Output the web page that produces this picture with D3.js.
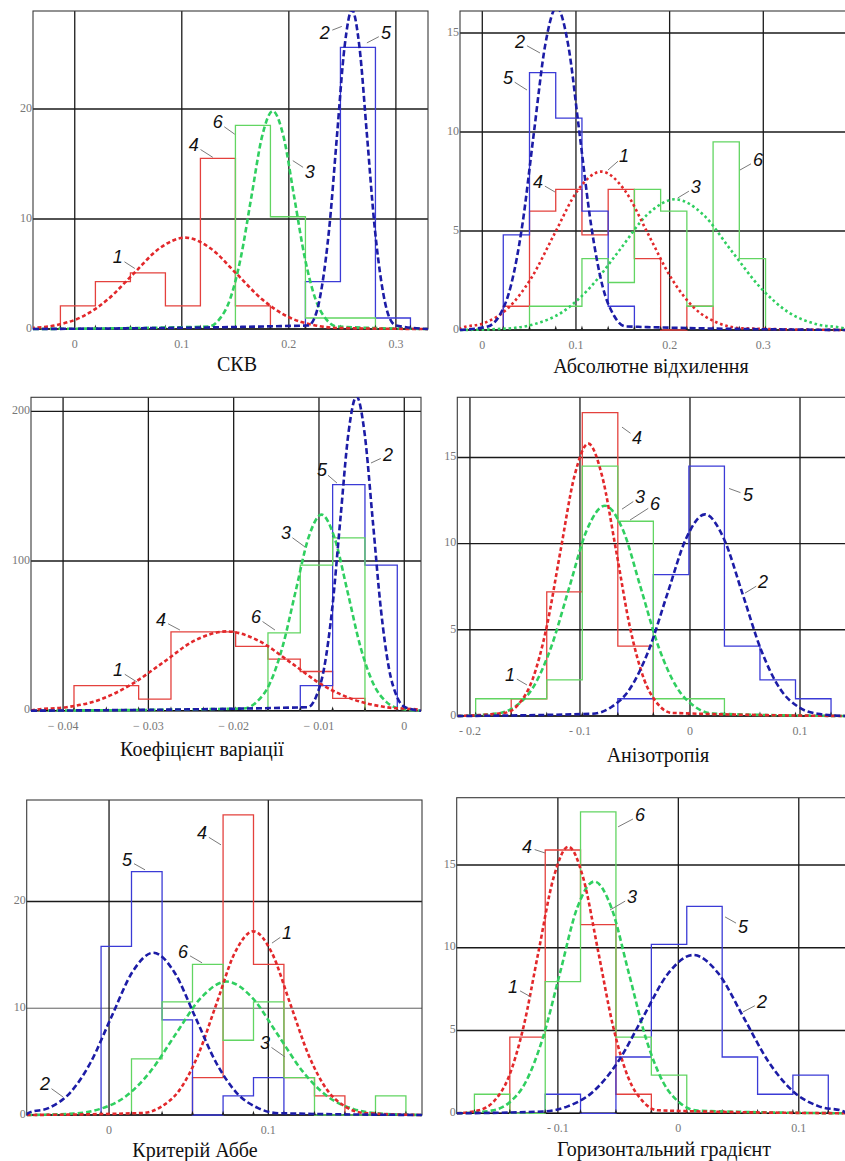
<!DOCTYPE html>
<html><head><meta charset="utf-8">
<script src="https://cdn.jsdelivr.net/npm/d3@7"></script>
<style>body{margin:0;background:#fff}svg{display:block}</style>
</head><body><svg id="c" width="845" height="1161"></svg>
<script>
// ---------- DATA ----------
// Panel: СКВ
const skvEdges = [-0.0134, 0.0193, 0.0520, 0.0847, 0.1174, 0.1501, 0.1828, 0.2155, 0.2482, 0.2809, 0.3136];
const skvHist4 = [2.1, 4.3, 5.1, 2.1, 15.5, 2.1, 0, 0, 0, 0];
const skvHist5 = [0, 0, 0, 0, 0, 0, 0, 4.3, 25.6, 1.0];
const skvHist6 = [0, 0, 0, 0, 0, 18.5, 10.2, 1.0, 1.0, 0];
const skvCurve1 = [[-0.041,0.09],[-0.017,0.36],[0.007,1.12],[0.031,2.70],[0.055,5.03],[0.079,7.32],[0.103,8.30],[0.127,7.32],[0.151,5.03],[0.175,2.70],[0.199,1.12],[0.223,0.36],[0.247,0.09]];
const skvCurve2 = [[0.218,0.32],[0.225,1.27],[0.231,3.92],[0.238,9.42],[0.245,17.6],[0.252,25.6],[0.259,29.0],[0.266,25.6],[0.273,17.6],[0.280,9.42],[0.287,3.92],[0.293,1.27],[0.300,0.32]];
const skvCurve3 = [[0.125,0.22],[0.135,0.87],[0.145,2.68],[0.155,6.43],[0.165,12.0],[0.175,17.5],[0.185,19.8],[0.195,17.5],[0.205,12.0],[0.215,6.43],[0.225,2.68],[0.235,0.87],[0.245,0.22]];
const skvXTicks = [0, 0.1, 0.2, 0.3];
const skvXLabels = ["0", "0.1", "0.2", "0.3"];
const skvYTicks = [0, 10, 20];

// Panel: Абсолютне відхилення
const absEdges = [0.0224, 0.0504, 0.0784, 0.1064, 0.1344, 0.1624, 0.1904, 0.2184, 0.2464, 0.2744, 0.3024];
const absHist4 = [1.2, 6.0, 7.1, 4.8, 7.1, 3.6, 0, 1.2, 0, 0];
const absHist5 = [4.8, 13.0, 10.7, 6.0, 1.2, 0, 0, 0, 0, 0];
const absHist6 = [0, 1.2, 1.2, 3.6, 2.4, 7.1, 6.0, 1.2, 9.5, 3.6];
const absCurve1 = [[-0.023,0.09],[0.002,0.35],[0.027,1.08],[0.052,2.60],[0.077,4.85],[0.102,7.06],[0.127,8.0],[0.152,7.06],[0.177,4.85],[0.202,2.60],[0.227,1.08],[0.252,0.35],[0.277,0.09]];
const absCurve2 = [[0.0059,0.18],[0.0182,0.72],[0.0304,2.21],[0.0427,5.29],[0.0549,9.89],[0.0672,14.4],[0.0794,16.3],[0.0917,14.4],[0.1039,9.89],[0.1162,5.29],[0.1284,2.21],[0.1407,0.72],[0.1529,0.18]];
const absCurve3 = [[0.025,0.07],[0.055,0.29],[0.085,0.89],[0.115,2.14],[0.146,4.00],[0.176,5.82],[0.206,6.6],[0.236,5.82],[0.266,4.00],[0.297,2.14],[0.327,0.89],[0.357,0.29],[0.387,0.07]];
const absXTicks = [0, 0.1, 0.2, 0.3];
const absXLabels = ["0", "0.1", "0.2", "0.3"];
const absYTicks = [0, 5, 10, 15];

// Panel: Коефіцієнт варіації
const cvEdges = [-0.03872, -0.03493, -0.03114, -0.02735, -0.02356, -0.01977, -0.01598, -0.01219, -0.00840, -0.00461, -0.00082];
const cvHist4 = [16.8, 16.8, 7.8, 52.7, 52.7, 43, 34.5, 26.2, 8.3, 0];
const cvHist5 = [0, 0, 0, 0, 0, 0, 0, 16.8, 151, 97.3];
const cvHist6 = [0, 0, 0, 0, 0, 0, 52, 97.3, 115.5, 0];
const cvCurve1 = [[-0.0433,0.59],[-0.0396,2.33],[-0.0358,7.17],[-0.0321,17.2],[-0.0283,32.1],[-0.0246,46.8],[-0.0208,53.0],[-0.0171,46.8],[-0.0133,32.1],[-0.0096,17.2],[-0.0058,7.17],[-0.0021,2.33],[0.0017,0.59]];
const cvCurve2 = [[-0.0113,2.33],[-0.01035,9.2],[-0.0094,28.4],[-0.00845,68.2],[-0.0075,127.4],[-0.00655,185.3],[-0.0056,210],[-0.00465,185.3],[-0.0037,127.4],[-0.00275,68.2],[-0.0018,28.4],[-0.00085,9.2],[0.0001,2.33]];
const cvCurve3 = [[-0.01885,1.45],[-0.01733,5.75],[-0.0158,17.7],[-0.01428,42.5],[-0.01275,79.5],[-0.01123,115.6],[-0.0097,131],[-0.00818,115.6],[-0.00665,79.5],[-0.00513,42.5],[-0.0036,17.7],[-0.00208,5.75],[-0.00055,1.45]];
const cvXTicks = [-0.04, -0.03, -0.02, -0.01, 0];
const cvXLabels = ["\u2212 0.04", "\u2212 0.03", "\u2212 0.02", "\u2212 0.01", "0"];
const cvYTicks = [0, 100, 200];

// Panel: Анізотропія
const anisEdges = [-0.1948, -0.1625, -0.1302, -0.0979, -0.0656, -0.0333, -0.0010, 0.0313, 0.0636, 0.0959, 0.1282];
const anisHist4 = [0, 1.0, 7.2, 17.6, 4.05, 0, 0, 0, 0, 0];
const anisHist5 = [0, 0, 0, 0, 1.0, 8.2, 14.5, 4.05, 2.1, 1.0];
const anisHist6 = [1.0, 1.0, 2.1, 14.5, 11.3, 1.0, 1.0, 0, 0, 0];
const anisCurve1 = [[-0.1683,0.18],[-0.1557,0.69],[-0.143,2.14],[-0.1304,5.13],[-0.1177,9.58],[-0.1051,13.9],[-0.0924,15.8],[-0.0798,13.9],[-0.0671,9.58],[-0.0545,5.13],[-0.0418,2.14],[-0.0292,0.69],[-0.0165,0.18]];
const anisCurve2 = [[-0.0887,0.13],[-0.0717,0.51],[-0.0546,1.58],[-0.0376,3.80],[-0.0205,7.10],[-0.0035,10.3],[0.0136,11.7],[0.0307,10.3],[0.0477,7.10],[0.0648,3.80],[0.0818,1.58],[0.0989,0.51],[0.1159,0.13]];
const anisCurve3 = [[-0.1754,0.14],[-0.1591,0.54],[-0.1427,1.65],[-0.1264,3.96],[-0.11,7.40],[-0.0937,10.8],[-0.0773,12.2],[-0.061,10.8],[-0.0446,7.40],[-0.0283,3.96],[-0.0119,1.65],[0.0045,0.54],[0.0208,0.14]];
const anisXTicks = [-0.2, -0.1, 0, 0.1];
const anisXLabels = ["- 0.2", "- 0.1", "0", "0.1"];
const anisYTicks = [0, 5, 10, 15];

// Panel: Критерій Аббе
const abbeEdges = [-0.0050, 0.0141, 0.0333, 0.0524, 0.0716, 0.0907, 0.1098, 0.1290, 0.1481, 0.1673, 0.1864];
const abbeHist4 = [0, 0, 0, 3.5, 28.1, 14.1, 3.5, 1.8, 0, 0];
const abbeHist5 = [15.8, 22.8, 8.9, 0, 1.8, 3.5, 0, 0, 0, 0];
const abbeHist6 = [0, 5.25, 10.6, 14.1, 7.0, 10.6, 3.5, 0, 0, 1.8];
const abbeCurve1 = [[0.021,0.19],[0.0326,0.76],[0.0442,2.33],[0.0558,5.58],[0.0674,10.4],[0.079,15.2],[0.0906,17.2],[0.1022,15.2],[0.1138,10.4],[0.1254,5.58],[0.137,2.33],[0.1486,0.76],[0.1602,0.19]];
const abbeCurve2 = [[-0.0508,0.17],[-0.0377,0.67],[-0.0246,2.06],[-0.0115,4.94],[0.0016,9.22],[0.0147,13.4],[0.0278,15.2],[0.0409,13.4],[0.054,9.22],[0.0671,4.94],[0.0802,2.06],[0.0933,0.67],[0.1064,0.17]];
const abbeCurve3 = [[-0.0219,0.14],[-0.006,0.55],[0.010,1.69],[0.0259,4.06],[0.0419,7.58],[0.0579,11.0],[0.0738,12.5],[0.0898,11.0],[0.1057,7.58],[0.1217,4.06],[0.1376,1.69],[0.1536,0.55],[0.1695,0.14]];
const abbeXTicks = [0, 0.1];
const abbeXLabels = ["0", "0.1"];
const abbeYTicks = [0, 10, 20];

// Panel: Горизонтальний градієнт
const gradEdges = [-0.1693, -0.1399, -0.1105, -0.0812, -0.0518, -0.0224, 0.0070, 0.0364, 0.0658, 0.0951, 0.1245];
const gradHist4 = [0, 4.6, 15.9, 11.4, 1.15, 0, 0, 0, 0, 0];
const gradHist5 = [0, 0, 1.15, 0, 3.4, 10.2, 12.5, 3.4, 1.15, 2.3];
const gradHist6 = [1.15, 0, 7.95, 18.2, 4.6, 2.3, 0, 0, 0, 0];
const gradCurve1 = [[-0.1657,0.18],[-0.1533,0.71],[-0.1409,2.18],[-0.1285,5.23],[-0.1161,9.76],[-0.1037,14.2],[-0.0913,16.1],[-0.0789,14.2],[-0.0665,9.76],[-0.0541,5.23],[-0.0417,2.18],[-0.0293,0.71],[-0.0169,0.18]];
const gradCurve2 = [[-0.1127,0.11],[-0.0919,0.42],[-0.071,1.29],[-0.0502,3.10],[-0.0293,5.80],[-0.0085,8.44],[0.0124,9.56],[0.0333,8.44],[0.0541,5.80],[0.075,3.10],[0.0958,1.29],[0.1167,0.42],[0.1375,0.11]];
const gradCurve3 = [[-0.1552,0.16],[-0.141,0.61],[-0.1267,1.89],[-0.1125,4.55],[-0.0982,8.49],[-0.084,12.4],[-0.0697,14.0],[-0.0555,12.4],[-0.0412,8.49],[-0.027,4.55],[-0.0127,1.89],[0.0016,0.61],[0.0158,0.16]];
const gradXTicks = [-0.1, 0, 0.1];
const gradXLabels = ["- 0.1", "0", "0.1"];
const gradYTicks = [0, 5, 10, 15];

// ---------- LAYOUT (positions / styles) ----------
const panels = [
  {title:"СКВ", edges:skvEdges, hist:[skvHist4,skvHist5,skvHist6], curves:[skvCurve1,skvCurve2,skvCurve3],
   xt:skvXTicks, xl:skvXLabels, yt:skvYTicks,
   box:[33,428,11,329], xd:[-0.039,0.33], yd:[0,28.9], titlePos:[237,371],
   labels:[["2",0.2336,26.9,0.2495,27.5],["5",0.2907,26.9,0.2729,26.0],["6",0.1336,18.8,0.1495,17.7],["4",0.1112,16.7,0.129,15.6],["3",0.2196,14.3,0.2037,15.3],["1",0.0402,6.5,0.0561,5.5]]},
  {title:"Абсолютне відхилення", edges:absEdges, hist:[absHist4,absHist5,absHist6], curves:[absCurve1,absCurve2,absCurve3],
   xt:absXTicks, xl:absXLabels, yt:absYTicks,
   box:[460,846,11,330], xd:[-0.0238,0.3883], yd:[0,16.11], titlePos:[651,373], dotted:true,
   labels:[["2",0.0402,14.55,0.0616,13.99],["5",0.0274,12.73,0.0477,12.12],["1",0.1513,8.79,0.1342,8.08],["4",0.0595,7.47,0.0776,6.97],["6",0.2943,8.59,0.2751,8.08],["3",0.2279,7.22,0.2087,6.67]]},
  {title:"Коефіцієнт варіації", edges:cvEdges, hist:[cvHist4,cvHist5,cvHist6], curves:[cvCurve1,cvCurve2,cvCurve3],
   xt:cvXTicks, xl:cvXLabels, yt:cvYTicks,
   box:[31,421,397.3,710.7], xd:[-0.04376,0.00196], yd:[0,209.4], titlePos:[202,756],
   labels:[["2",-0.00191,170.8,-0.0039,165.5],["5",-0.00965,160.8,-0.00789,152.1],["3",-0.01387,118.7,-0.01164,109.4],["6",-0.01739,62.6,-0.01516,53.9],["4",-0.02852,60.6,-0.0263,53.9],["1",-0.03356,27.2,-0.03134,19.2]]},
  {title:"Анізотропія", edges:anisEdges, hist:[anisHist4,anisHist5,anisHist6], curves:[anisCurve1,anisCurve2,anisCurve3],
   xt:anisXTicks, xl:anisXLabels, yt:anisYTicks,
   box:[457.3,846,397.3,716], xd:[-0.2115,0.1418], yd:[0,18.49], titlePos:[658,762],
   labels:[["4",-0.0482,16.13,-0.0618,16.76],["3",-0.0455,12.7,-0.0618,12.0],["6",-0.0318,12.3,-0.0545,11.37],["5",0.0527,12.8,0.0355,13.2],["2",0.0664,7.77,0.05,7.13],["1",-0.1636,2.38,-0.1482,1.8]]},
  {title:"Критерій Аббе", edges:abbeEdges, hist:[abbeHist4,abbeHist5,abbeHist6], curves:[abbeCurve1,abbeCurve2,abbeCurve3],
   xt:abbeXTicks, xl:abbeXLabels, yt:abbeYTicks, thinY:[10],
   box:[26.7,422,800,1115], xd:[-0.0517,0.1965], yd:[0,29.5], titlePos:[195,1157],
   labels:[["4",0.0584,26.4,0.0703,25.3],["5",0.0113,23.9,0.0226,22.96],["1",0.1117,17.06,0.1023,16.1],["6",0.0465,15.28,0.0584,14.25],["3",0.0979,6.75,0.1105,5.44],["2",-0.0402,2.9,-0.0289,1.69]]},
  {title:"Горизонтальний градієнт", edges:gradEdges, hist:[gradHist4,gradHist5,gradHist6], curves:[gradCurve1,gradCurve2,gradCurve3],
   xt:gradXTicks, xl:gradXLabels, yt:gradYTicks,
   box:[456.7,846,797.7,1113.3], xd:[-0.184,0.1392], yd:[0,19.06], titlePos:[664,1156],
   labels:[["6",-0.0318,18.0,-0.05,17.3],["4",-0.1256,16.08,-0.1106,15.72],["3",-0.0384,13.06,-0.0567,12.28],["5",0.0537,11.25,0.0388,11.86],["1",-0.1372,7.63,-0.1222,7.02],["2",0.0694,6.72,0.0537,6.12]]}
];

const histColors = ["#e4413d", "#3b3bd6", "#62d562"];   // series 4,5,6
const curveColors = ["#e2282b", "#1c1ca6", "#30cf60"];  // series 1,2,3
const curveDash = ["4 2.6", "6 3", "5.5 3"];

const svg = d3.select("#c");
const defs = svg.append("defs");

panels.forEach((p, pi) => {
  const [l, r, t, b] = p.box;
  const x = d3.scaleLinear().domain(p.xd).range([l, r]);
  const y = d3.scaleLinear().domain(p.yd).range([b, t]);
  const g = svg.append("g");

  defs.append("clipPath").attr("id", "clip" + pi)
    .append("rect").attr("x", l).attr("y", t).attr("width", r - l).attr("height", b - t + 2);

  // gridlines
  g.selectAll(".vg").data(p.xt).join("line")
    .attr("x1", d => x(d)).attr("x2", d => x(d)).attr("y1", t).attr("y2", b)
    .attr("stroke", "#1a1a1a").attr("stroke-width", 1.3);
  g.selectAll(".hg").data(p.yt.filter(v => v > 0)).join("line")
    .attr("x1", l).attr("x2", r).attr("y1", d => y(d)).attr("y2", d => y(d))
    .attr("stroke", "#1a1a1a").attr("stroke-width", d => (p.thinY && p.thinY.includes(d)) ? 0.7 : 1.4);

  // frame
  g.append("rect").attr("x", l).attr("y", t).attr("width", r - l).attr("height", b - t)
    .attr("fill", "none").attr("stroke", "#3a3a3a").attr("stroke-width", 1.1);
  g.append("line").attr("x1", l).attr("x2", r).attr("y1", y(0)).attr("y2", y(0))
    .attr("stroke", "#111").attr("stroke-width", 1.4);

  const plot = g.append("g").attr("clip-path", `url(#clip${pi})`);

  // histograms (step outlines)
  const stepLine = d3.line().x(d => x(d[0])).y(d => y(d[1])).curve(d3.curveStepAfter);
  p.hist.forEach((vals, si) => {
    const i0 = vals.findIndex(v => v > 0);
    let i1 = vals.length - 1;
    while (i1 > 0 && !(vals[i1] > 0)) i1--;
    const pts = [[p.edges[i0], 0]];
    for (let i = i0; i <= i1; i++) pts.push([p.edges[i], vals[i]]);
    pts.push([p.edges[i1 + 1], 0]);
    plot.append("path").attr("d", stepLine(pts))
      .attr("fill", "none").attr("stroke", histColors[si]).attr("stroke-width", 1.3);
  });

  // bin edge marks on the axis
  plot.selectAll(".mk").data(p.edges).join("path")
    .attr("d", d => `M${x(d) - 1.3},${y(0)} L${x(d)},${y(0) - 4.5} L${x(d) + 1.3},${y(0)} Z`)
    .attr("fill", "#222");

  // fitted curves
  const cl = d3.line().x(d => x(d[0])).y(d => y(d[1])).curve(d3.curveMonotoneX);
  [2, 0, 1].forEach(ci => {
    const pts = p.curves[ci].slice();
    if (pts[0][0] > p.xd[0]) pts.unshift([p.xd[0], 0]);
    if (pts[pts.length - 1][0] < p.xd[1]) pts.push([p.xd[1], 0]);
    const dash = (p.dotted && ci !== 1) ? "2.6 2.8" : curveDash[ci];
    plot.append("path").attr("d", cl(pts))
      .attr("fill", "none").attr("stroke", curveColors[ci]).attr("stroke-width", 2.6)
      .attr("stroke-dasharray", dash);
  });

  // tick labels
  g.selectAll(".yl").data(p.yt).join("text")
    .attr("x", l - 1).attr("y", d => y(d)).attr("text-anchor", "end").attr("dominant-baseline", "middle")
    .attr("font-family", "Liberation Serif, serif").attr("font-size", 12).attr("fill", "#777")
    .text(d => d);
  g.selectAll(".xl").data(p.xt).join("text")
    .attr("x", d => x(d)).attr("y", b + 19).attr("text-anchor", "middle")
    .attr("font-family", "Liberation Serif, serif").attr("font-size", 12).attr("fill", "#777")
    .text((d, i) => p.xl[i]);

  // title
  g.append("text").attr("x", p.titlePos[0]).attr("y", p.titlePos[1]).attr("text-anchor", "middle")
    .attr("font-family", "Liberation Serif, serif").attr("font-size", 20).attr("fill", "#111")
    .text(p.title);

  // number labels with leader lines
  p.labels.forEach(([txt, lx, ly, tx, ty]) => {
    const cx = x(lx), cy = y(ly), ex = x(tx), ey = y(ty);
    const dx = ex - cx, dy = ey - cy, dl = Math.hypot(dx, dy) || 1;
    g.append("line").attr("x1", cx + dx / dl * 8).attr("y1", cy + dy / dl * 8).attr("x2", ex).attr("y2", ey)
      .attr("stroke", "#7a7a7a").attr("stroke-width", 1);
    g.append("text").attr("x", cx).attr("y", cy).attr("text-anchor", "middle").attr("dominant-baseline", "central")
      .attr("font-family", "Liberation Sans, Arial, sans-serif").attr("font-style", "italic")
      .attr("font-size", 18).attr("fill", "#111").text(txt);
  });
});
</script>
</body></html>
